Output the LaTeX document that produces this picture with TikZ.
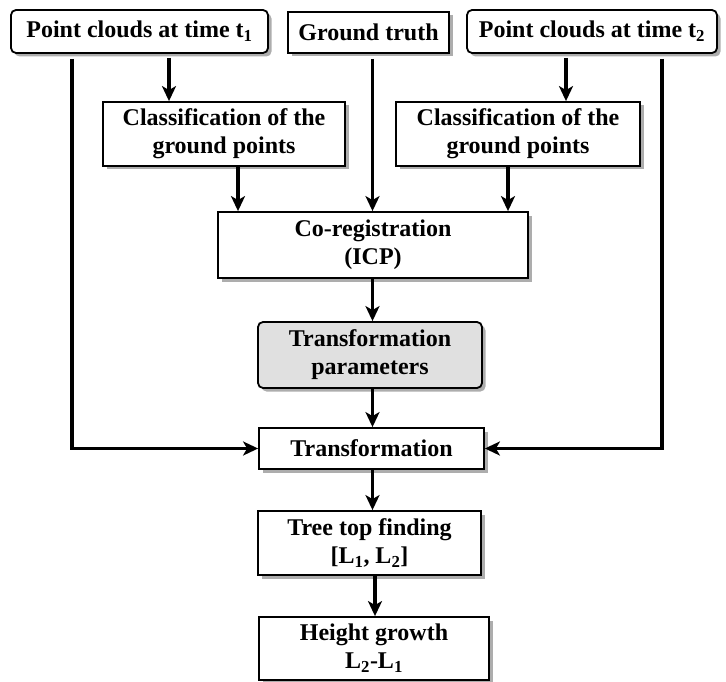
\documentclass[tikz,border=0pt]{standalone}
\usepackage{fontspec}
\setmainfont{Liberation Serif}
\usetikzlibrary{shadows,arrows.meta}
\begin{document}
\begin{tikzpicture}[x=1pt,y=-1pt,
  box/.style={draw=black, line width=1.8pt, fill=white, inner sep=0pt, align=center,
    font=\fontsize{24}{28}\selectfont\bfseries,
    drop shadow={shadow xshift=3.5pt, shadow yshift=-3.5pt, fill=black!40, opacity=0.8}},
  rbox/.style={box, rounded corners=5pt},
  arr/.style={line width=3.2pt, -{Stealth[length=15pt,width=14pt,inset=4pt]}}]
\useasboundingbox (0,0) rectangle (726,682);
\node[rbox, minimum width=257pt, minimum height=43pt] (p1) at (139.5,31.5) {Point clouds at time t\textsubscript{1}};
\node[box, minimum width=161pt, minimum height=41pt] (gt) at (368.5,32.5) {Ground truth};
\node[rbox, minimum width=250pt, minimum height=43pt] (p2) at (592,31.5) {Point clouds at time t\textsubscript{2}};
\node[box, minimum width=242pt, minimum height=64pt] (c1) at (224,134) {Classification of the\\ground points};
\node[box, minimum width=244pt, minimum height=64pt] (c2) at (518,134) {Classification of the\\ground points};
\node[box, minimum width=310pt, minimum height=66pt] (co) at (373,245) {Co-registration\\(ICP)};
\node[rbox, fill=black!12, minimum width=224pt, minimum height=66pt] (tp) at (370,355) {Transformation\\parameters};
\node[box, minimum width=225pt, minimum height=41pt] (tr) at (371.5,448.5) {Transformation};
\node[box, minimum width=223pt, minimum height=64pt] (tt) at (369.5,543) {Tree top finding\\{}[L\textsubscript{1}, L\textsubscript{2}]};
\node[box, minimum width=230pt, minimum height=63pt] (hg) at (374,648.5) {Height growth\\L\textsubscript{2}-L\textsubscript{1}};
\coordinate (xL) at (72,0);
\coordinate (xR) at (662,0);
\coordinate (xa) at (169,0);
\coordinate (xb) at (566,0);
\coordinate (xc) at (238,0);
\coordinate (xd) at (508,0);
\coordinate (xm) at (372.5,0);
\coordinate (xn) at (375,0);
\draw[arr, shorten <=4pt] (p1.south -| xa) -- (c1.north -| xa);
\draw[arr, shorten <=4pt] (p2.south -| xb) -- (c2.north -| xb);
\draw[arr, shorten <=5pt] (gt.south -| xm) -- (co.north -| xm);
\draw[arr] (c1.south -| xc) -- (co.north -| xc);
\draw[arr] (c2.south -| xd) -- (co.north -| xd);
\draw[arr] (co.south -| xm) -- (tp.north -| xm);
\draw[arr] (tp.south -| xm) -- (tr.north -| xm);
\draw[arr] (tr.south -| xm) -- (tt.north -| xm);
\draw[arr] (tt.south -| xn) -- (hg.north -| xn);
\draw[arr, shorten <=5pt] (p1.south -| xL) |- (tr.west);
\draw[arr, shorten <=5pt] (p2.south -| xR) |- (tr.east);
\end{tikzpicture}
\end{document}
